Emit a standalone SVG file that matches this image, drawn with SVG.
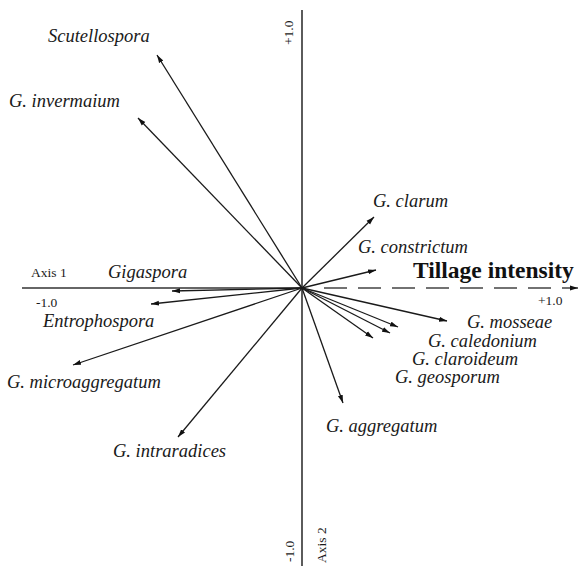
<svg xmlns="http://www.w3.org/2000/svg" width="579" height="566" viewBox="0 0 579 566">
<style>
.sp{font-family:"Liberation Serif","Times New Roman",serif;font-style:italic;font-size:18.5px;fill:#1a1a1a}
.ax{font-family:"Liberation Serif","Times New Roman",serif;font-size:13.5px;fill:#1a1a1a}
.ti{font-family:"Liberation Serif","Times New Roman",serif;font-weight:bold;font-size:23.5px;fill:#111}
.vec{stroke:#1a1a1a;stroke-width:1.3;fill:none;marker-end:url(#ah)}
.axis{stroke:#333;stroke-width:1.6;fill:none}
</style>
<defs>
<marker id="ah" markerUnits="userSpaceOnUse" markerWidth="9" markerHeight="6" refX="8" refY="3" orient="auto">
<path d="M0,0.5 L8,3 L0,5.5 Z" fill="#111"/>
</marker>
</defs>
<rect width="579" height="566" fill="#fff"/>
<g id="axes">
<line class="axis" x1="302" y1="10" x2="302" y2="566"/>
<line class="axis" x1="22" y1="288" x2="302" y2="288"/>
<text class="ax" x="31" y="277">Axis 1</text>
<text class="ax" x="36" y="307">-1.0</text>
<text class="ax" x="538" y="305">+1.0</text>
<text class="ax" transform="translate(293,45) rotate(-90)">+1.0</text>
<text class="ax" transform="translate(294,562) rotate(-90)">-1.0</text>
<text class="ax" transform="translate(326,563) rotate(-90)">Axis 2</text>
</g>
<g id="connectors">
<line class="vec" x1="302" y1="288" x2="157" y2="55"/>
<line class="vec" x1="302" y1="288" x2="138" y2="118"/>
<line class="vec" x1="302" y1="288" x2="172" y2="291"/>
<line class="vec" x1="302" y1="288" x2="151" y2="304"/>
<line class="vec" x1="302" y1="288" x2="73" y2="365"/>
<line class="vec" x1="302" y1="288" x2="178" y2="437"/>
<line class="vec" x1="302" y1="288" x2="374" y2="217"/>
<line class="vec" x1="302" y1="288" x2="376" y2="270"/>
<line class="vec" x1="302" y1="288" x2="447" y2="321"/>
<line class="vec" x1="302" y1="288" x2="398" y2="327"/>
<line class="vec" x1="302" y1="288" x2="390" y2="333"/>
<line class="vec" x1="302" y1="288" x2="373" y2="338"/>
<line class="vec" x1="302" y1="288" x2="343" y2="403"/>
<line x1="324" y1="288" x2="578" y2="288" stroke="#444" stroke-width="1.6" stroke-dasharray="23,11" marker-end="url(#ah)"/>
</g>
<g id="scutellospora"><text class="sp" x="48" y="42">Scutellospora</text></g>
<g id="invermaium"><text class="sp" x="9" y="107">G. invermaium</text></g>
<g id="gigaspora"><text class="sp" x="108" y="278">Gigaspora</text></g>
<g id="entrophospora"><text class="sp" x="43" y="327">Entrophospora</text></g>
<g id="microaggregatum"><text class="sp" x="7" y="388">G. microaggregatum</text></g>
<g id="intraradices"><text class="sp" x="113" y="457">G. intraradices</text></g>
<g id="clarum"><text class="sp" x="373" y="207">G. clarum</text></g>
<g id="constrictum"><text class="sp" x="358" y="253">G. constrictum</text></g>
<g id="tillage"><text class="ti" x="413" y="278">Tillage intensity</text></g>
<g id="mosseae"><text class="sp" x="467" y="328">G. mosseae</text></g>
<g id="caledonium"><text class="sp" x="428" y="347">G. caledonium</text></g>
<g id="claroideum"><text class="sp" x="412" y="365">G. claroideum</text></g>
<g id="geosporum"><text class="sp" x="395" y="383">G. geosporum</text></g>
<g id="aggregatum"><text class="sp" x="326" y="432">G. aggregatum</text></g>
</svg>
